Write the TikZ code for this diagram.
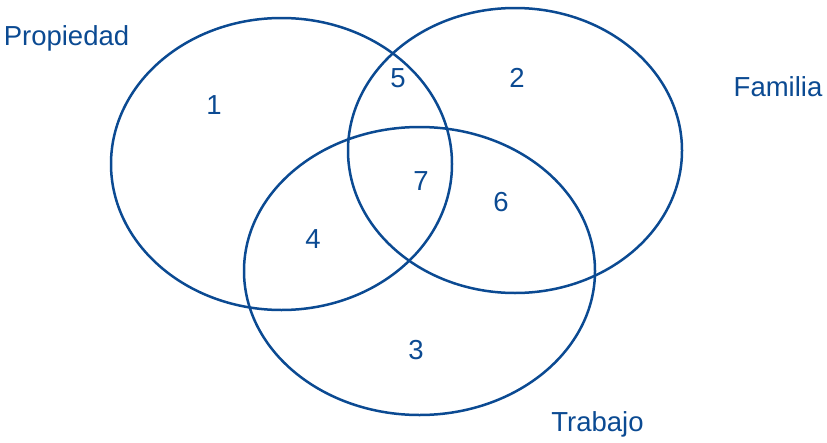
\documentclass[tikz,border=0pt]{standalone}
\usepackage{fontspec}
\setmainfont{Liberation Sans}
\definecolor{vblue}{HTML}{0B4A92}
\begin{document}
\begin{tikzpicture}[x=1pt,y=-1pt,
  ring/.style={draw=vblue,line width=2.5pt},
  lbl/.style={text=vblue,font=\fontsize{27.5}{32}\selectfont,inner sep=0pt,text depth=0pt,anchor=center}]
\useasboundingbox (0,0) rectangle (827,442);
\draw[ring] (281.5,164) ellipse [x radius=170.5,y radius=146];
\draw[ring] (515,150.5) ellipse [x radius=167,y radius=142.5];
\draw[ring] (419.5,271) ellipse [x radius=175.5,y radius=144];
\node[lbl] (prop) at (66.5,36) {Propiedad};
\node[lbl] (fam) at (778,86.5) {Familia};
\node[lbl] (trab) at (597.5,422) {Trabajo};
\node[lbl] (n1) at (214,105) {1};
\node[lbl] (n5) at (398,78) {5};
\node[lbl] (n2) at (517,78) {2};
\node[lbl] (n7) at (421,181) {7};
\node[lbl] (n6) at (501,202) {6};
\node[lbl] (n4) at (313,239) {4};
\node[lbl] (n3) at (416,350) {3};
\end{tikzpicture}
\end{document}
